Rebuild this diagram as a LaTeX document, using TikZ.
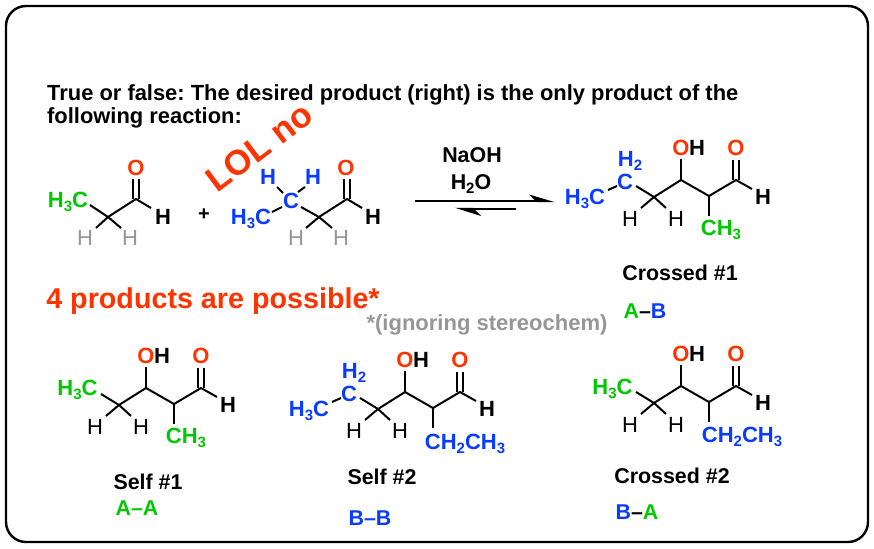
\documentclass[tikz,border=0pt]{standalone}
\usepackage{fontspec}
\setmainfont{Liberation Sans}
\frenchspacing
\definecolor{cgreen}{RGB}{0,200,0}
\definecolor{cblue}{RGB}{10,60,255}
\definecolor{cred}{RGB}{255,51,0}
\definecolor{cgray}{RGB}{150,150,150}
\newcommand\sbs[1]{\raisebox{-4pt}{\fontsize{15}{16}\selectfont #1}}
\tikzset{
  atom/.style={inner sep=0pt,text height=15.7pt,text depth=0pt,font=\fontsize{22}{24}\selectfont},
  batom/.style={atom,font=\fontsize{22}{24}\selectfont\bfseries},
  greenatom/.style={batom,text=cgreen},
  blueatom/.style={batom,text=cblue},
  redatom/.style={batom,text=cred},
  grayatom/.style={atom,text=cgray},
  lbl/.style={inner sep=0pt,text height=15.3pt,text depth=0pt,font=\fontsize{21.4}{23}\selectfont\bfseries},
  bond/.style={line width=2pt,black},
  arrowline/.style={line width=2.5pt,black},
  frame/.style={draw=black,line width=2.4pt,rounded corners=20pt},
  para/.style={inner sep=0pt,anchor=base west,font=\fontsize{21.9}{24}\selectfont\bfseries},
}
% aldol skeleton, origin at the C-OH carbon
\newcommand\skeleton[1]{
  \coordinate (#1L) at (-27,17);
  \coordinate (#1M) at (0,0);
  \coordinate (#1R) at (28,16);
  \coordinate (#1A) at (55,0);
  \coordinate (#1OHe) at (0,-21);
  \coordinate (#1Ae) at (71,9);
  \coordinate (#1He1) at (-40,28);
  \coordinate (#1He2) at (-15,28);
  \coordinate (#1Se) at (28,36);
  \coordinate (#1Ee) at (-45,6);
  \node[redatom] (#1O1) at (0,-32) {O};
  \node[batom] (#1H) at (16,-32) {H};
  \node[redatom] (#1O2) at (55,-32) {O};
  \node[batom] (#1HA) at (82,17) {H};
  \node[atom] (#1HL1) at (-51,39) {H};
  \node[atom] (#1HL2) at (-5,39) {H};
  \draw[bond] (#1Ee) -- (#1L) -- (#1M) -- (#1R) -- (#1A) -- (#1Ae);
  \draw[bond] (#1M) -- (#1OHe);
  \draw[bond] (#1R) -- (#1Se);
  \draw[bond] (#1L) -- (#1He1);
  \draw[bond] (#1L) -- (#1He2);
  \draw[bond] ([xshift=-3pt]#1A) -- ([xshift=-3pt,yshift=20pt]#1A);
  \draw[bond] ([xshift=3pt]#1A) -- ([xshift=3pt,yshift=20pt]#1A);
}
\newcommand\ethyl[1]{
  \node[blueatom] (#1C) at (-56,2) {C};
  \node[blueatom] (#1H2) at (-51,-21) {H\sbs{2}};
  \node[blueatom] (#1Me) at (-96,17) {H\sbs{3}C};
  \coordinate (#1b1) at (-73,10);
  \coordinate (#1b2) at (-64,6);
  \draw[bond] (#1b1) -- (#1b2);
}
\begin{document}
\begin{tikzpicture}[x=1pt,y=-1pt]
\useasboundingbox (0,0) rectangle (874,548);
\node[frame,minimum width=862pt,minimum height=536pt] (border) at (437,274) {};

\node[para] (q1) at (47,101) {True or false: The desired product (right) is the only product of the};
\node[para] (q2) at (47,124) {following reaction:};

% propanal A
\node[greenatom] (aMe) at (68,200) {H\sbs{3}C};
\node[redatom] (aO) at (136,168) {O};
\node[batom] (aH) at (163,217) {H};
\node[grayatom] (aH1) at (85,238) {H};
\node[grayatom] (aH2) at (130,238) {H};
\coordinate (a1) at (90,205);
\coordinate (a2) at (108,217);
\coordinate (a3) at (136,199);
\coordinate (a4) at (151,208);
\coordinate (a5) at (96,228);
\coordinate (a6) at (121,228);
\draw[bond] (a1) -- (a2) -- (a3) -- (a4);
\draw[bond] (a2) -- (a5);
\draw[bond] (a2) -- (a6);
\draw[bond] ([xshift=-3pt]a3) -- ([xshift=-3pt,yshift=20pt]a3);
\draw[bond] ([xshift=3pt]a3) -- ([xshift=3pt,yshift=20pt]a3);

\node[inner sep=0pt,font=\fontsize{20}{22}\selectfont\bfseries] (plus) at (204,215) {+};

% propanal B
\node[blueatom] (bMe) at (251,217) {H\sbs{3}C};
\node[blueatom] (bC) at (291,201) {C};
\node[blueatom] (bH1) at (268,177) {H};
\node[blueatom] (bH2) at (313,177) {H};
\node[redatom] (bO) at (346,168) {O};
\node[batom] (bH) at (373,217) {H};
\node[grayatom] (bH3) at (296,238) {H};
\node[grayatom] (bH4) at (341,238) {H};
\coordinate (b1) at (272,212);
\coordinate (b2) at (282,207);
\coordinate (b3) at (277,187);
\coordinate (b4) at (283,193);
\coordinate (b5) at (305,187);
\coordinate (b6) at (298,192);
\coordinate (b7) at (301,207);
\coordinate (b8) at (319,217);
\coordinate (b9) at (347,199);
\coordinate (b10) at (362,208);
\coordinate (b11) at (306,228);
\coordinate (b12) at (332,228);
\draw[bond] (b1) -- (b2);
\draw[bond] (b3) -- (b4);
\draw[bond] (b5) -- (b6);
\draw[bond] (b7) -- (b8) -- (b9) -- (b10);
\draw[bond] (b8) -- (b11);
\draw[bond] (b8) -- (b12);
\draw[bond] ([xshift=-3pt]b9) -- ([xshift=-3pt,yshift=20pt]b9);
\draw[bond] ([xshift=3pt]b9) -- ([xshift=3pt,yshift=20pt]b9);

\node[inner sep=0pt,rotate=37,text=cred,font=\fontsize{35}{37}\selectfont\bfseries] (lol) at (259,147) {LOL no};

% reaction arrows
\node[lbl] (naoh) at (472,155) {NaOH};
\node[lbl] (water) at (471,182) {H\sbs{2}O};
\coordinate (r1) at (415,201);
\coordinate (r2) at (540,201);
\coordinate (r3) at (516,209);
\coordinate (r4) at (468,209);
\draw[arrowline] (r1) -- (r2);
\draw[arrowline] (r3) -- (r4);
\fill[black] (555,202.2) -- (529,194.5) -- (537,202.2) -- cycle;
\fill[black] (455,207.8) -- (481,216) -- (473,207.8) -- cycle;

% Crossed #1
\begin{scope}[shift={(681,180)}]
\skeleton{p}
\ethyl{p}
\node[greenatom] (pS) at (40,48) {CH\sbs{3}};
\end{scope}
\node[lbl] (pl) at (680,273) {Crossed \#1};
\node[lbl] (pab) at (645,311) {\textcolor{cgreen}{A}–\textcolor{cblue}{B}};

\node[inner sep=0pt,text=cred,font=\fontsize{28.7}{30}\selectfont\bfseries] (four) at (213,301) {4 products are possible*};
\node[inner sep=0pt,text=cgray,font=\fontsize{22}{24}\selectfont\bfseries] (ign) at (487,325) {*(ignoring stereochem)};

% Self #1
\begin{scope}[shift={(146,388)}]
\skeleton{s}
\node[greenatom] (sMe) at (-68.5,0) {H\sbs{3}C};
\node[greenatom] (sS) at (40,48) {CH\sbs{3}};
\end{scope}
\node[lbl] (sl) at (148,482) {Self \#1};
\node[lbl] (sab) at (137,508) {\textcolor{cgreen}{A–A}};

% Self #2
\begin{scope}[shift={(405,392)}]
\skeleton{t}
\ethyl{t}
\node[blueatom] (tS) at (60,50) {CH\sbs{2}CH\sbs{3}};
\end{scope}
\node[lbl] (tl) at (382,477) {Self \#2};
\node[lbl] (tab) at (370,518) {\textcolor{cblue}{B–B}};

% Crossed #2
\begin{scope}[shift={(681,386)}]
\skeleton{u}
\node[greenatom] (uMe) at (-68.5,1) {H\sbs{3}C};
\node[blueatom] (uS) at (61,49) {CH\sbs{2}CH\sbs{3}};
\end{scope}
\node[lbl] (ul) at (672,476) {Crossed \#2};
\node[lbl] (uab) at (637,512) {\textcolor{cblue}{B}–\textcolor{cgreen}{A}};
\end{tikzpicture}
\end{document}
